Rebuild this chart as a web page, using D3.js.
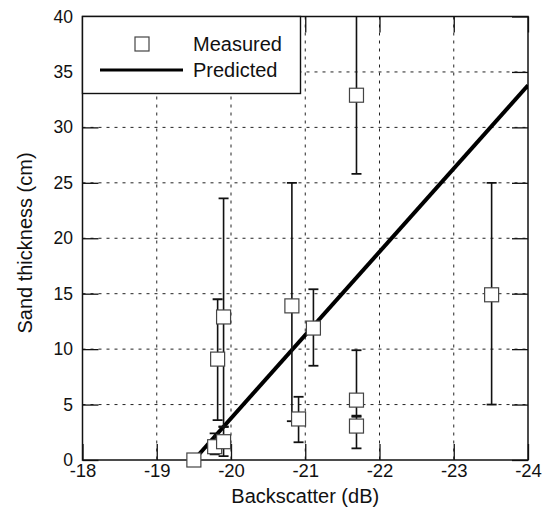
<!DOCTYPE html>
<html>
<head>
<meta charset="utf-8">
<script src="https://cdn.jsdelivr.net/npm/d3@7"></script>
<style>
  body { margin: 0; background: #fff; }
  svg { display: block; }
  text { font-family: "Liberation Sans", Arial, Helvetica, sans-serif; fill: #111; }
</style>
</head>
<body>
<svg id="chart" width="547" height="509"></svg>
<script>
// ---- Data ----
const backscatter = [-19.5, -19.78, -19.82, -19.90, -19.90, -20.82, -20.91, -21.11, -21.69, -21.69, -21.69, -23.51];
const thickness   = [0.0, 1.2, 9.1, 12.9, 1.65, 13.9, 3.7, 11.9, 32.9, 5.4, 3.06, 14.9];
const errLow      = [0.0, 0.5, 3.6, 3.0, 0.35, 3.5, 1.6, 8.5, 25.8, 4.0, 1.05, 5.0];
const errHigh     = [0.0, 2.4, 14.5, 23.6, 3.0, 25.0, 5.7, 15.4, 42.0, 9.9, 3.9, 25.0];
const predictedX  = [-19.5, -24];
const predictedY  = [0.0, 33.8];
const xTicks = [-18, -19, -20, -21, -22, -23, -24];
const yTicks = [0, 5, 10, 15, 20, 25, 30, 35, 40];
const legendLabels = ["Measured", "Predicted"];

// ---- Layout ----
const svg = d3.select("#chart");
const L = 82.5, R = 528, T = 16.5, B = 460;
const x = d3.scaleLinear().domain([-18, -24]).range([L, R]);
const y = d3.scaleLinear().domain([0, 40]).range([B, T]);

svg.append("defs").append("clipPath").attr("id", "plotclip")
  .append("rect").attr("x", L).attr("y", T).attr("width", R - L).attr("height", B - T);

// grid lines (dashed)
const grid = svg.append("g");
grid.selectAll(".vg").data(xTicks.slice(1, -1)).enter().append("line")
  .attr("x1", d => x(d)).attr("x2", d => x(d)).attr("y1", T).attr("y2", B)
  .attr("stroke", "#222").attr("stroke-width", 1).attr("stroke-dasharray", "3,5");
grid.selectAll(".hg").data(yTicks.slice(1, -1)).enter().append("line")
  .attr("x1", L).attr("x2", R).attr("y1", d => y(d)).attr("y2", d => y(d))
  .attr("stroke", "#222").attr("stroke-width", 1).attr("stroke-dasharray", "3,5");

// axes with inward ticks
const tickLen = 16;
const fmt = d => String(d);
const xAxisB = d3.axisBottom(x).tickValues(xTicks).tickSize(-tickLen).tickPadding(4).tickFormat(fmt);
const xAxisT = d3.axisTop(x).tickValues(xTicks).tickSize(-tickLen).tickFormat("");
const yAxisL = d3.axisLeft(y).tickValues(yTicks).tickSize(-tickLen).tickPadding(9.5).tickFormat(fmt);
const yAxisR = d3.axisRight(y).tickValues(yTicks).tickSize(-tickLen).tickFormat("");

function styleAxis(g, size) {
  g.select(".domain").remove();
  g.selectAll(".tick line").attr("stroke", "#111").attr("stroke-width", 1.3);
  g.selectAll(".tick text").style("font-size", size + "px").attr("fill", "#111")
    .style("font-family", '"Liberation Sans", Arial, sans-serif');
}
svg.append("g").attr("transform", `translate(0,${B})`).call(xAxisB).call(styleAxis, 18.5);
svg.append("g").attr("transform", `translate(0,${T})`).call(xAxisT).call(styleAxis, 18);
svg.append("g").attr("transform", `translate(${L},0)`).call(yAxisL).call(styleAxis, 17.5);
svg.append("g").attr("transform", `translate(${R},0)`).call(yAxisR).call(styleAxis, 18);

// frame
svg.append("rect").attr("x", L).attr("y", T).attr("width", R - L).attr("height", B - T)
  .attr("fill", "none").attr("stroke", "#111").attr("stroke-width", 1.5);

// legend box
const lgX1 = 82.5, lgY1 = 16.5, lgX2 = 300.5, lgY2 = 93.5;
svg.append("rect").attr("x", lgX1).attr("y", lgY1).attr("width", lgX2 - lgX1).attr("height", lgY2 - lgY1)
  .attr("fill", "#fff").attr("stroke", "#111").attr("stroke-width", 1.4);
svg.append("rect").attr("x", 142 - 7).attr("y", 44 - 7).attr("width", 14).attr("height", 14)
  .attr("fill", "#fff").attr("stroke", "#444").attr("stroke-width", 1.2);
svg.append("text").attr("x", 193).attr("y", 51).style("font-size", "20px").text(legendLabels[0]);
svg.append("line").attr("x1", 100).attr("x2", 183).attr("y1", 70).attr("y2", 70)
  .attr("stroke", "#000").attr("stroke-width", 2.8);
svg.append("text").attr("x", 193).attr("y", 77).style("font-size", "20px").text(legendLabels[1]);

// plot contents
const plot = svg.append("g").attr("clip-path", "url(#plotclip)");
const data = backscatter.map((b, i) => ({ b, t: thickness[i], lo: errLow[i], hi: errHigh[i] }));

// predicted line
const lineGen = d3.line().x(d => x(d[0])).y(d => y(d[1]));
plot.append("path").datum(predictedX.map((v, i) => [v, predictedY[i]]))
  .attr("d", lineGen).attr("fill", "none").attr("stroke", "#000").attr("stroke-width", 4);

// error bars
const capW = 5;
const eb = plot.selectAll(".eb").data(data.filter(d => d.hi > d.lo)).enter().append("g");
eb.append("line").attr("x1", d => x(d.b)).attr("x2", d => x(d.b))
  .attr("y1", d => y(d.lo)).attr("y2", d => y(d.hi))
  .attr("stroke", "#111").attr("stroke-width", 1.6);
eb.append("line").attr("x1", d => x(d.b) - capW).attr("x2", d => x(d.b) + capW)
  .attr("y1", d => y(d.lo)).attr("y2", d => y(d.lo))
  .attr("stroke", "#111").attr("stroke-width", 1.8);
eb.append("line").attr("x1", d => x(d.b) - capW).attr("x2", d => x(d.b) + capW)
  .attr("y1", d => y(d.hi)).attr("y2", d => y(d.hi))
  .attr("stroke", "#111").attr("stroke-width", 1.8);

// squares
const sq = 14;
svg.selectAll(".sq").data(data).enter().append("rect")
  .attr("x", d => x(d.b) - sq / 2).attr("y", d => y(d.t) - sq / 2)
  .attr("width", sq).attr("height", sq)
  .attr("fill", "#fff").attr("stroke", "#444").attr("stroke-width", 1.2);

// axis titles
svg.append("text").attr("x", (L + R) / 2).attr("y", 503).attr("text-anchor", "middle")
  .style("font-size", "20px").text("Backscatter (dB)");
svg.append("text").attr("transform", `translate(32,243) rotate(-90)`).attr("text-anchor", "middle")
  .style("font-size", "20px").text("Sand thickness (cm)");
</script>
</body>
</html>
